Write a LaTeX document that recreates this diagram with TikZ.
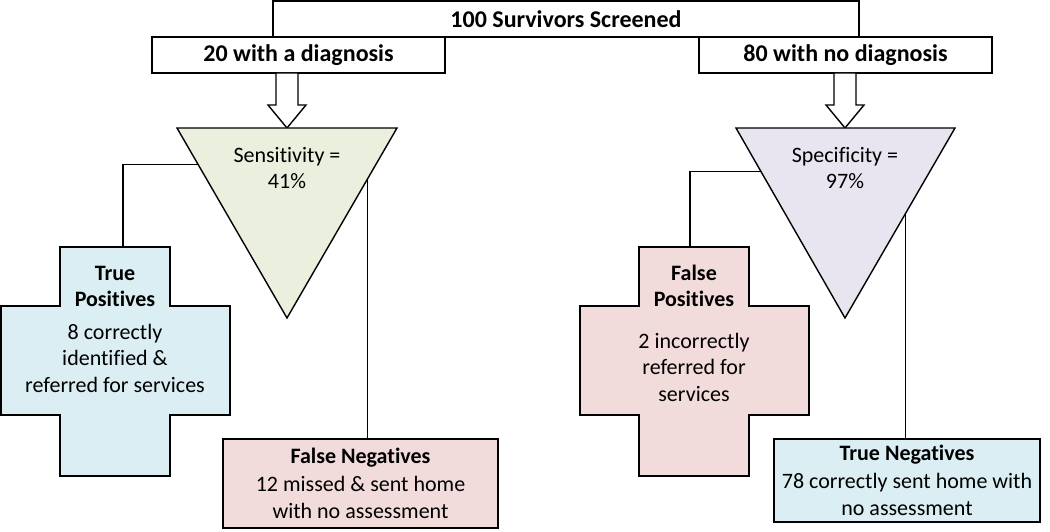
\documentclass[tikz,border=0pt]{standalone}
\usepackage{fontspec}
\setmainfont{Carlito}[Ligatures=NoCommon]
\usepackage{tikz}
\usetikzlibrary{positioning}
\usetikzlibrary{calc}
\definecolor{sensgreen}{RGB}{235,240,222}
\definecolor{speclilac}{RGB}{232,229,240}
\definecolor{posblue}{RGB}{219,238,244}
\definecolor{negpink}{RGB}{242,220,219}
% plus-shaped box: #1 centre x, #2 fill colour
\newcommand{\drawcross}[2]{%
  \draw[Shape, fill=#2] (#1-55,247) -- (#1+55,247) -- (#1+55,306) -- (#1+115,306)
    -- (#1+115,415) -- (#1+55,415) -- (#1+55,476) -- (#1-55,476) -- (#1-55,415)
    -- (#1-114,415) -- (#1-114,306) -- (#1-55,306) -- cycle;}

\begin{document}
\begin{tikzpicture}[x=1pt,y=-1pt]
  \tikzset{Shape/.style={draw, line width=1.4pt, line join=miter}};
  \tikzset{Header/.style={rectangle, draw, line width=1.4pt, fill=white, inner sep=0pt, minimum height=36pt, font=\fontsize{24}{28}\selectfont\bfseries}};
  \tikzset{Outcome/.style={rectangle, draw, line width=1.4pt, align=center, inner sep=0pt, font=\fontsize{22}{27.5}\selectfont}};
  \tikzset{Label/.style={align=center, font=\fontsize{22}{26.5}\selectfont}};
  \tikzset{Link/.style={line width=1.1pt}};
  \useasboundingbox (0,0) rectangle (1050,532);
  \node[Header, minimum width=586pt] (all) at (566,19) {100 Survivors Screened};
  \node[Header, minimum width=293pt] (diag) at (298.5,55) {20 with a diagnosis};
  \node[Header, minimum width=293pt] (nodiag) at (845.5,55) {80 with no diagnosis};
  % block arrows
  \foreach \ax in {287,845} {
    \draw[Shape, fill=white] (\ax-11,73) -- (\ax-11,105) -- (\ax-19,105) -- (\ax,128)
      -- (\ax+19,105) -- (\ax+11,105) -- (\ax+11,73) -- cycle;
  }
  % triangles
  \coordinate (sensA) at (177,128);
  \coordinate (sensB) at (397,128);
  \coordinate (sensC) at (287,318);
  \coordinate (specA) at (736,128);
  \coordinate (specB) at (955,128);
  \coordinate (specC) at (845,318);
  \draw[Shape, fill=sensgreen] (sensA) -- (sensB) -- (sensC) -- cycle;
  \draw[Shape, fill=speclilac] (specA) -- (specB) -- (specC) -- cycle;
  \node[Label] (sens) at (287,168) {Sensitivity =\\41\%};
  \node[Label] (spec) at (845,168) {Specificity =\\97\%};
  % crosses
  \drawcross{115}{posblue}
  \drawcross{694}{negpink}
  \coordinate (tptop) at (123,247);
  \coordinate (fptop) at (690,247);
  \node[Label] (tp) at (115,329) {\textbf{True}\\\textbf{Positives}\\[6pt]8 correctly\\identified \&\\referred for services};
  \node[Label] (fp) at (694,333) {\textbf{False}\\\textbf{Positives}\\[15pt]2 incorrectly\\referred for\\services};
  % outcome boxes
  \node[Outcome, fill=negpink, minimum width=275pt, minimum height=89pt] (fn) at (360.5,483.5) {\textbf{False Negatives}\\12 missed \& sent home\\with no assessment};
  \node[Outcome, fill=posblue, minimum width=266pt, minimum height=83pt] (tn) at (907,480.5) {\textbf{True Negatives}\\78 correctly sent home with\\no assessment};
  % connectors
  \draw[Link] ($(sensA)!0.19!(sensC)$) -| (tptop);
  \draw[Link] ($(sensB)!0.27!(sensC)$) coordinate (fnlink) -- (fnlink |- fn.north);
  \draw[Link] ($(specA)!0.23!(specC)$) -| (fptop);
  \draw[Link] ($(specB)!0.45!(specC)$) coordinate (tnlink) -- (tnlink |- tn.north);
\end{tikzpicture}
\end{document}
